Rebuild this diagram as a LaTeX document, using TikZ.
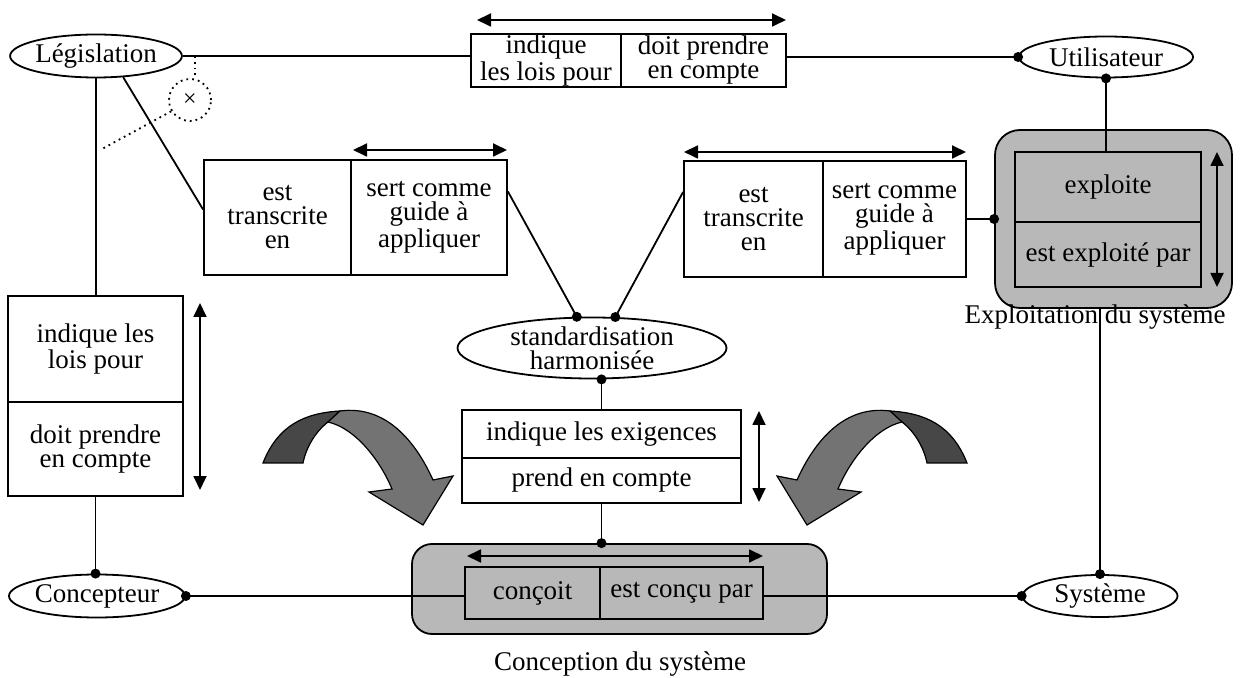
\documentclass[tikz,border=0pt]{standalone}
\usepackage{fontspec}
\setmainfont{Liberation Serif}
\usetikzlibrary{shapes.geometric,arrows.meta,calc}
\newcommand{\bendarrow}{%
 \filldraw[fill=black!72, line width=0.6pt] (263,463) .. controls (278,425) and (305,413) .. (340,411) -- (328,422) .. controls (315,432) and (306,448) .. (303,463) -- cycle;
 \filldraw[fill=black!55, line width=0.6pt] (328,422) -- (340,411) .. controls (385,405) and (415,440) .. (433,480) -- (453,476) -- (423,525) -- (369,492) -- (392,489) .. controls (380,460) and (355,428) .. (328,422) -- cycle;}
\begin{document}
\begin{tikzpicture}[x=0.5pt,y=-0.5pt,
  every node/.style={font=\fontsize{13.5}{12}\selectfont, inner sep=0pt, align=center},
  cell/.style={draw, line width=0.9pt, rectangle},
  oval/.style={draw, line width=0.9pt, ellipse, fill=white},
  gbox/.style={draw, line width=0.9pt, fill=black!28},
  link/.style={line width=0.9pt},
  dbl/.style={line width=0.9pt, {Triangle[length=7pt,width=6.5pt]}-{Triangle[length=7pt,width=6.5pt]}},
  dotd/.style={line width=0.9pt, dotted},
  dot/.style={circle, fill=black, minimum size=5pt, inner sep=0pt},
  ]
\useasboundingbox (0,0) rectangle (1242,678);

% grey frames
\node[gbox, rounded corners=12.5pt, minimum width=118.5pt, minimum height=89pt] (exbox) at (1113.5,219) {};
\node[gbox, rounded corners=10pt, minimum width=207.5pt, minimum height=45pt] (cobox) at (619.5,589) {};

% cells
\node[cell, minimum width=75pt, minimum height=26.5pt] (topL) at (546,60.5) {indique\\les lois pour};
\node[cell, minimum width=82.5pt, minimum height=26.5pt] (topR) at (703.5,60.5) {doit prendre\\en compte};
\node[cell, minimum width=73.5pt, minimum height=57.5pt] (lmL) at (277.5,217.5) {est\\transcrite\\en};
\node[cell, minimum width=78pt, minimum height=57.5pt] (lmR) at (429,217.5) {sert comme\\guide à\\appliquer};
\node[cell, minimum width=69.5pt, minimum height=58pt] (rmL) at (753.5,219) {est\\transcrite\\en};
\node[cell, minimum width=71.5pt, minimum height=58pt] (rmR) at (894.5,219) {sert comme\\guide à\\appliquer};
\node[cell, minimum width=87.5pt, minimum height=53pt] (lvU) at (95.5,349) {indique les\\lois pour};
\node[cell, minimum width=87.5pt, minimum height=47pt] (lvD) at (95.5,449) {doit prendre\\en compte};
\node[cell, minimum width=139.5pt, minimum height=24pt] (reqU) at (601.5,434) {indique les exigences};
\node[cell, minimum width=139.5pt, minimum height=22.5pt] (reqD) at (601.5,480.5) {prend en compte};
\node[cell, minimum width=93pt, minimum height=35pt] (exU) at (1108,187) {exploite};
\node[cell, minimum width=93pt, minimum height=32.5pt] (exD) at (1108,254.5) {est exploité par};
\node[cell, minimum width=67.5pt, minimum height=26pt] (cvL) at (532.5,593) {conçoit};
\node[cell, minimum width=81.5pt, minimum height=26pt] (cvR) at (681.5,593) {est conçu par};

% ellipses
\node[oval, minimum width=77.5pt, minimum height=21.5pt] (leg) at (96,56) {Législation};
\node[oval, minimum width=87pt, minimum height=20.5pt] (util) at (1106,57) {Utilisateur};
\node[oval, minimum width=78.5pt, minimum height=21.5pt] (conc) at (97,596) {Concepteur};
\node[oval, minimum width=77.5pt, minimum height=21pt] (sys) at (1100,596) {Système};
\node[oval, minimum width=134.5pt, minimum height=30.5pt] (std) at (592,348) {standardisation\\harmonisée};

% labels
\node[anchor=base] (exlab) at (1095,324) {Exploitation du système};
\node[anchor=base] (colab) at (620,670) {Conception du système};

% cancelled relation
\node[draw, dotted, circle, line width=0.9pt, minimum size=21pt, font=\fontsize{12}{12}\selectfont] (xc) at (190,100) {×};
\coordinate (xt) at (195,56);
\coordinate (xe) at (102,149);
\draw[dotd] (xt) -- (xt |- xc.north);
\draw[dotd] (xc.211) -- (xe);

% connectors
\draw[link] (leg.east) -- (leg.east -| topL.west);
\draw[link] (topR.east |- util.west) -- (util.west) node[dot] {};
\draw[link] (exU.north -| util.south) -- (util.south) node[dot] {};
\draw[link] (rmR.east) -- (rmR.east -| exbox.west) node[dot] {};
\draw[link] ($(rmL.west)+(0,-27)$) -- (std.53) node[dot] {};
\draw[link] ($(lmR.east)+(0,-26)$) -- (std.116) node[dot] {};
\draw[link] (leg.-38) -- ($(lmL.west)+(0,-8)$);
\draw[link] (leg.south) -- (leg.south |- lvU.north);
\draw[link] (lvD.south) -- (lvD.south |- conc.north) node[dot] {};
\draw[link] (conc.east -| cvL.west) -- (conc.east) node[dot] {};
\draw[link] (sys.west -| cvR.east) -- (sys.west) node[dot] {};
\draw[link] (sys.north |- exbox.south) -- (sys.north) node[dot] {};
\draw[link] (reqU.north) -- (reqU.north |- std.south) node[dot] {};
\draw[link] (reqD.south) -- (reqD.south |- cobox.north) node[dot] {};

% double arrows
\coordinate (t1) at (477,20);   \coordinate (t2) at (786,20);
\coordinate (l1) at (353,150);  \coordinate (l2) at (507,150);
\coordinate (r1) at (684,152);  \coordinate (r2) at (966,152);
\coordinate (v1) at (200,303);  \coordinate (v2) at (200,490);
\coordinate (q1) at (759,411);  \coordinate (q2) at (759,502);
\coordinate (e1) at (1217,152); \coordinate (e2) at (1217,287);
\coordinate (c1) at (467,556);  \coordinate (c2) at (763,556);
\draw[dbl] (t1) -- (t2);
\draw[dbl] (l1) -- (l2);
\draw[dbl] (r1) -- (r2);
\draw[dbl] (v1) -- (v2);
\draw[dbl] (q1) -- (q2);
\draw[dbl] (e1) -- (e2);
\draw[dbl] (c1) -- (c2);

% bent arrows
\bendarrow
\begin{scope}[shift={(1230,0)},xscale=-1]
\bendarrow
\end{scope}
\end{tikzpicture}
\end{document}
